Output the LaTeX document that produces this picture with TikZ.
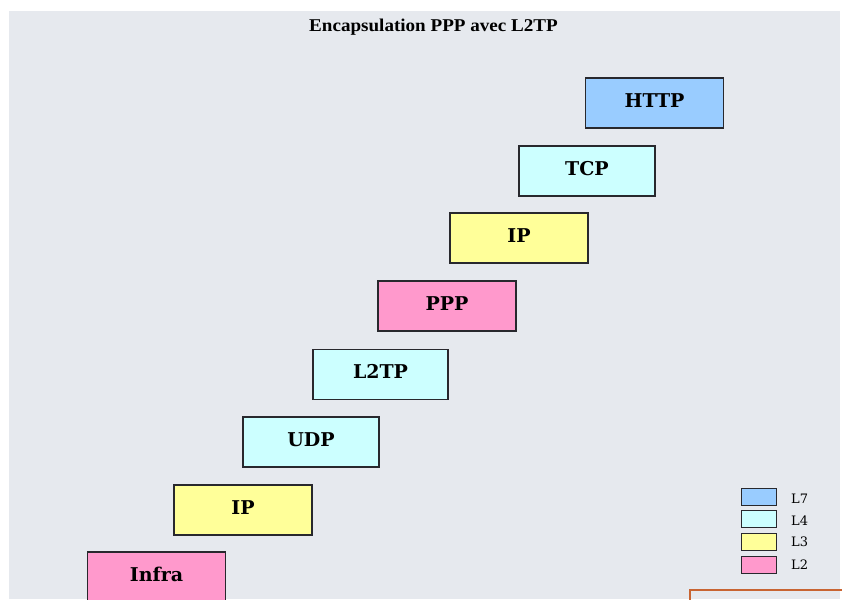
\documentclass[tikz,border=0pt]{standalone}
\usepackage{fontspec}
\setmainfont{Liberation Serif}
\newfontfamily\slabfont{DejaVu Serif}
\definecolor{panel}{RGB}{230,233,238}
\definecolor{appl}{RGB}{153,204,255}
\definecolor{transp}{RGB}{204,255,255}
\definecolor{netw}{RGB}{255,255,153}
\definecolor{link}{RGB}{255,153,204}
\definecolor{frameline}{RGB}{200,100,50}
\definecolor{edge}{RGB}{40,40,45}
\tikzset{
  layer/.style={draw=edge, line width=1.2pt, minimum width=138pt, minimum height=50pt,
    inner sep=0pt, text height=13.9pt, text depth=5pt,
    font=\slabfont\fontsize{19}{22}\selectfont\bfseries},
  key/.style={draw=edge, line width=1pt, minimum width=35pt, minimum height=17pt, inner sep=0pt},
  keylabel/.style={anchor=west, inner sep=0pt, text height=9.5pt, text depth=0pt,
    font=\slabfont\fontsize{13}{15}\selectfont},
}
\begin{document}
\begin{tikzpicture}[x=1pt,y=-1pt]
\useasboundingbox (0,0) rectangle (842,599);
\fill[white] (0,0) rectangle (842,599);
\fill[panel] (9,11) rectangle (840,599);
% title
\node[inner sep=0pt, text height=12pt, text depth=0pt] (title) at (433.5,26)
  {\scalebox{1.06}[1]{\fontsize{18}{20}\selectfont\bfseries Encapsulation PPP avec L2TP}};
% protocol stack, staircase layout
\node[layer, fill=appl]   (http)  at (654.5,103) {HTTP};
\node[layer, fill=transp, minimum width=136pt] (tcp)   at (587,171) {TCP};
\node[layer, fill=netw]   (ip1)   at (519,238) {IP};
\node[layer, fill=link]   (ppp)   at (447,306) {PPP};
\node[layer, fill=transp, minimum width=135pt] (l2tp)  at (380.5,374.5) {L2TP};
\node[layer, fill=transp, minimum width=136pt] (udp)   at (311,442) {UDP};
\node[layer, fill=netw]   (ip2)   at (243,510) {IP};
\node[layer, fill=link]   (infra) at (156.5,577) {Infra};
% legend
\node[key, fill=appl]   (k7) at (758.5,496.5) {};
\node[key, fill=transp] (k4) at (758.5,518.5) {};
\node[key, fill=netw]   (k3) at (758.5,541.5) {};
\node[key, fill=link]   (k2) at (758.5,564.5) {};
\node[keylabel] (t7) at (791,498.5) {L7};
\node[keylabel] (t4) at (791,520.5) {L4};
\node[keylabel] (t3) at (791,542) {L3};
\node[keylabel] (t2) at (791,564.5) {L2};
% corner of the next frame
\draw[frameline, line width=2pt] (689.5,605) -- (689.5,589.5) -- (845,589.5);
\end{tikzpicture}
\end{document}
